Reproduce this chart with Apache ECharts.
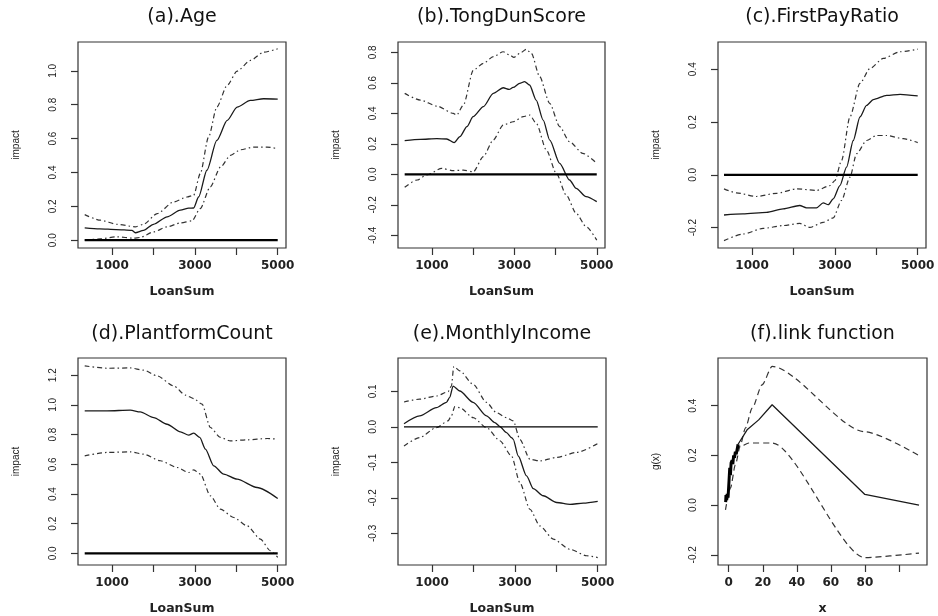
<!DOCTYPE html>
<html>
<head>
<meta charset="utf-8">
<script src="https://cdn.jsdelivr.net/npm/echarts@6/dist/echarts.min.js"></script>
<style>
  html, body { margin: 0; padding: 0; background: #fff; }
  #chart { width: 938px; height: 616px; }
</style>
</head>
<body>
<div id="chart"></div>
<script>
// tick values
const loanTicks = [1000, 2000, 3000, 4000, 5000];
const loanLabels = [1000, 3000, 5000];
const linkTicks = [0, 20, 40, 60, 80, 100];
const linkLabels = [0, 20, 40, 60, 80];

const titles = ['(a).Age', '(b).TongDunScore', '(c).FirstPayRatio',
  '(d).PlantformCount', '(e).MonthlyIncome', '(f).link function'];
const xNames = ['LoanSum', 'LoanSum', 'LoanSum', 'LoanSum', 'LoanSum', 'x'];
const yNames = ['impact', 'impact', 'impact', 'impact', 'impact', 'g(x)'];

const yTicks = [
  [0, 0.2, 0.4, 0.6, 0.8, 1.0],
  [-0.4, -0.2, 0, 0.2, 0.4, 0.6, 0.8],
  [-0.2, 0, 0.2, 0.4],
  [0, 0.2, 0.4, 0.6, 0.8, 1.0, 1.2],
  [-0.3, -0.2, -0.1, 0, 0.1],
  [-0.2, 0, 0.2, 0.4]
];
const yRanges = [[-0.046, 1.17], [-0.483, 0.868], [-0.277, 0.503], [-0.078, 1.316], [-0.389, 0.194], [-0.241, 0.592]];

// (a) Age
const ageFit = [[340,0.073],[700,0.067],[1100,0.063],[1480,0.058],[1560,0.044],[1760,0.058],[2000,0.094],[2330,0.138],[2650,0.177],[2850,0.189],[2970,0.19],[3090,0.255],[3290,0.413],[3530,0.589],[3780,0.707],[4020,0.786],[4340,0.825],[4660,0.835],[5000,0.833]];
const ageUpper = [[340,0.151],[720,0.118],[1120,0.094],[1560,0.079],[1760,0.094],[2090,0.157],[2490,0.226],[2810,0.255],[2970,0.265],[3130,0.393],[3330,0.609],[3530,0.786],[3780,0.914],[4020,0.998],[4340,1.061],[4660,1.11],[5000,1.13]];
const ageLower = [[340,0.0],[720,0.008],[1120,0.02],[1520,0.012],[1680,0.016],[2000,0.049],[2330,0.079],[2650,0.102],[2930,0.114],[3130,0.187],[3370,0.314],[3620,0.432],[3860,0.501],[4100,0.534],[4420,0.55],[4740,0.55],[5000,0.54]];

// (b) TongDunScore
const tdFit = [[340,0.221],[720,0.23],[1120,0.234],[1360,0.232],[1540,0.208],[1680,0.247],[1850,0.313],[2000,0.378],[2250,0.444],[2490,0.531],[2730,0.568],[2875,0.557],[2970,0.57],[3130,0.597],[3250,0.608],[3370,0.586],[3530,0.487],[3700,0.356],[3860,0.225],[4100,0.072],[4340,-0.037],[4500,-0.092],[4740,-0.146],[5000,-0.179]];
const tdUpper = [[340,0.531],[720,0.487],[1120,0.448],[1520,0.4],[1600,0.389],[1765,0.455],[2006,0.684],[2250,0.728],[2490,0.772],[2730,0.804],[2890,0.783],[2990,0.767],[3130,0.793],[3290,0.82],[3415,0.793],[3616,0.64],[3857,0.466],[4100,0.313],[4340,0.214],[4660,0.138],[5000,0.072]];
const tdLower = [[340,-0.085],[640,-0.037],[880,-0.004],[1240,0.039],[1520,0.024],[1765,0.028],[2006,0.017],[2247,0.116],[2489,0.225],[2730,0.323],[2972,0.345],[3213,0.378],[3374,0.389],[3535,0.334],[3777,0.16],[4018,0.007],[4260,-0.136],[4501,-0.256],[4742,-0.343],[5000,-0.431]];

// (c) FirstPayRatio
const fpFit = [[323,-0.152],[780,-0.148],[1350,-0.142],[1750,-0.129],[2150,-0.116],[2315,-0.125],[2556,-0.125],[2718,-0.106],[2839,-0.113],[2960,-0.091],[3121,-0.041],[3282,0.029],[3444,0.13],[3605,0.219],[3766,0.263],[3927,0.285],[4250,0.301],[4573,0.305],[5000,0.299]];
const fpUpper = [[323,-0.053],[621,-0.068],[1105,-0.082],[1589,-0.07],[2073,-0.053],[2556,-0.059],[2879,-0.041],[3000,-0.022],[3161,0.054],[3363,0.219],[3605,0.346],[3847,0.403],[4169,0.441],[4573,0.466],[5000,0.476]];
const fpLower = [[323,-0.249],[782,-0.224],[1266,-0.203],[1750,-0.192],[2153,-0.184],[2395,-0.199],[2718,-0.18],[2960,-0.163],[3161,-0.097],[3363,-0.009],[3524,0.08],[3766,0.13],[4008,0.149],[4250,0.149],[4653,0.137],[5000,0.122]];

// (d) PlantformCount
const pcFit = [[340,0.96],[880,0.96],[1440,0.965],[1680,0.953],[2006,0.915],[2328,0.87],[2650,0.819],[2851,0.796],[2972,0.81],[3117,0.781],[3254,0.702],[3455,0.59],[3696,0.534],[4018,0.5],[4501,0.444],[5000,0.37]];
const pcUpper = [[340,1.263],[880,1.247],[1440,1.249],[1765,1.234],[2087,1.196],[2489,1.128],[2771,1.066],[2972,1.043],[3173,1.005],[3374,0.848],[3616,0.781],[3857,0.758],[4260,0.765],[4743,0.774],[5000,0.769]];
const pcLower = [[340,0.657],[880,0.68],[1440,0.684],[1765,0.668],[2167,0.624],[2569,0.579],[2851,0.545],[2972,0.563],[3133,0.534],[3374,0.388],[3616,0.298],[3938,0.242],[4260,0.186],[4582,0.096],[4823,0.018],[5000,-0.027]];

// (e) MonthlyIncome
const miFit = [[323,0.009],[702,0.031],[1105,0.054],[1347,0.069],[1427,0.083],[1508,0.115],[1669,0.101],[1992,0.069],[2315,0.031],[2516,0.012],[2637,0.001],[2798,-0.016],[2919,-0.03],[2960,-0.035],[3081,-0.082],[3282,-0.138],[3444,-0.174],[3685,-0.194],[4008,-0.213],[4331,-0.218],[4653,-0.215],[5000,-0.21]];
const miUpper = [[323,0.07],[702,0.078],[1105,0.087],[1387,0.099],[1468,0.115],[1524,0.17],[1669,0.158],[1992,0.12],[2315,0.069],[2556,0.04],[2798,0.026],[2960,0.017],[3121,-0.035],[3363,-0.091],[3605,-0.096],[4008,-0.086],[4492,-0.072],[5000,-0.047]];
const miLower = [[323,-0.054],[702,-0.03],[1105,-0.002],[1387,0.017],[1468,0.031],[1548,0.057],[1669,0.054],[1992,0.026],[2315,-0.002],[2637,-0.039],[2919,-0.082],[3121,-0.157],[3363,-0.232],[3605,-0.279],[3927,-0.316],[4331,-0.345],[4734,-0.363],[5000,-0.368]];

// (f) link function
const linkDense = [[-1.8,0.012],[-1.6,0.04],[-1.2,0.02],[-0.9,0.045],[-0.4,0.03],[0.2,0.1],[0.6,0.15],[1.0,0.12],[1.4,0.17],[2.0,0.18],[2.4,0.165],[2.9,0.2],[3.4,0.19],[3.9,0.215],[4.4,0.205],[5.5,0.245]];
const linkFit = [[5.5,0.245],[10.8,0.303],[17.6,0.343],[25.5,0.404],[80,0.043],[111.8,0.0]];
const linkUpper = [[-1.9,-0.019],[1.0,0.068],[3.9,0.162],[6.9,0.243],[9.8,0.31],[13.8,0.39],[19.6,0.484],[25.5,0.558],[80,0.295],[111.8,0.199]];
const linkLower = [[4.5,0.215],[6.9,0.235],[11.8,0.25],[25.5,0.25],[80,-0.211],[111.8,-0.193]];

// zero reference lines (start, end of the data range)
const zeroSpans = [[340, 5000], [340, 5000], [323, 5000], [340, 5000], [323, 5000]];

const fits = [ageFit, tdFit, fpFit, pcFit, miFit, linkFit];
const uppers = [ageUpper, tdUpper, fpUpper, pcUpper, miUpper, linkUpper];
const lowers = [ageLower, tdLower, fpLower, pcLower, miLower, linkLower];

// plot boxes: left, top, width, height
const boxes = [[78, 42, 208, 206], [398, 42, 207, 206], [718, 42, 208, 206],
               [78, 358, 208, 207], [398, 358, 208, 207], [718, 358, 209, 207]];

const chart = echarts.init(document.getElementById('chart'), null, { renderer: 'canvas' });

const grid = [], xAxis = [], yAxis = [], series = [], title = [];
const dashDot = [5, 3, 1.5, 3];

boxes.forEach((b, i) => {
  grid.push({
    left: b[0], top: b[1], width: b[2], height: b[3],
    show: true, borderColor: '#333', borderWidth: 1.2, backgroundColor: 'transparent'
  });
  title.push({
    text: titles[i],
    left: b[0] + b[2] / 2,
    top: i < 3 ? 8 : 325,
    textAlign: 'center',
    padding: 0,
    textStyle: { fontFamily: 'DejaVu Sans', fontSize: 19, fontWeight: 'normal', color: '#111' }
  });
  const isLink = i === 5;
  xAxis.push({
    type: 'value', gridIndex: i,
    min: isLink ? -6.3 : 178, max: isLink ? 116.5 : 5200,
    name: xNames[i], nameLocation: 'middle', nameGap: 37,
    nameTextStyle: { fontFamily: 'DejaVu Sans', fontSize: 12.5, fontWeight: 'bold', color: '#222' },
    axisLine: { show: false, onZero: false },
    splitLine: { show: false },
    axisTick: { show: true, length: 7, customValues: isLink ? linkTicks : loanTicks,
      lineStyle: { color: '#333', width: 1.2 } },
    axisLabel: { customValues: isLink ? linkLabels : loanLabels, margin: 12,
      fontFamily: 'DejaVu Sans', fontSize: 12, fontWeight: 'bold', color: '#222',
      formatter: v => String(v) }
  });
  yAxis.push({
    type: 'value', gridIndex: i,
    min: yRanges[i][0], max: yRanges[i][1],
    name: yNames[i], nameLocation: 'middle', nameGap: 57, nameRotate: 90,
    nameTextStyle: { fontFamily: 'Liberation Sans', fontSize: 10, color: '#222' },
    axisLine: { show: false, onZero: false },
    splitLine: { show: false },
    axisTick: { show: true, length: 7, customValues: yTicks[i],
      lineStyle: { color: '#333', width: 1.2 } },
    axisLabel: { customValues: yTicks[i], rotate: 90, margin: 20,
      fontFamily: 'Liberation Sans', fontSize: 10, color: '#222',
      formatter: v => v.toFixed(1) }
  });

  const base = { type: 'line', xAxisIndex: i, yAxisIndex: i, symbol: 'none',
    silent: true, animation: false, smooth: 0.25, smoothMonotone: 'x' };
  series.push(Object.assign({}, base, { data: uppers[i],
    lineStyle: { color: '#333', width: 1.2, type: isLink ? [6, 4] : dashDot } }));
  series.push(Object.assign({}, base, { data: lowers[i],
    lineStyle: { color: '#333', width: 1.2, type: isLink ? [6, 4] : dashDot } }));
  series.push(Object.assign({}, base, { data: fits[i], smooth: isLink ? false : 0.25,
    lineStyle: { color: '#1a1a1a', width: 1.3 } }));
  if (isLink) {
    series.push(Object.assign({}, base, { data: linkDense, smooth: false,
      lineStyle: { color: '#000', width: 3 } }));
  } else {
    const z = zeroSpans[i];
    series.push(Object.assign({}, base, { data: [[z[0], 0], [z[1], 0]], smooth: false,
      lineStyle: { color: '#000', width: i === 4 ? 1.2 : 2.2 } }));
  }
});

chart.setOption({
  animation: false,
  backgroundColor: '#fff',
  title, grid, xAxis, yAxis, series
});
</script>
</body>
</html>
